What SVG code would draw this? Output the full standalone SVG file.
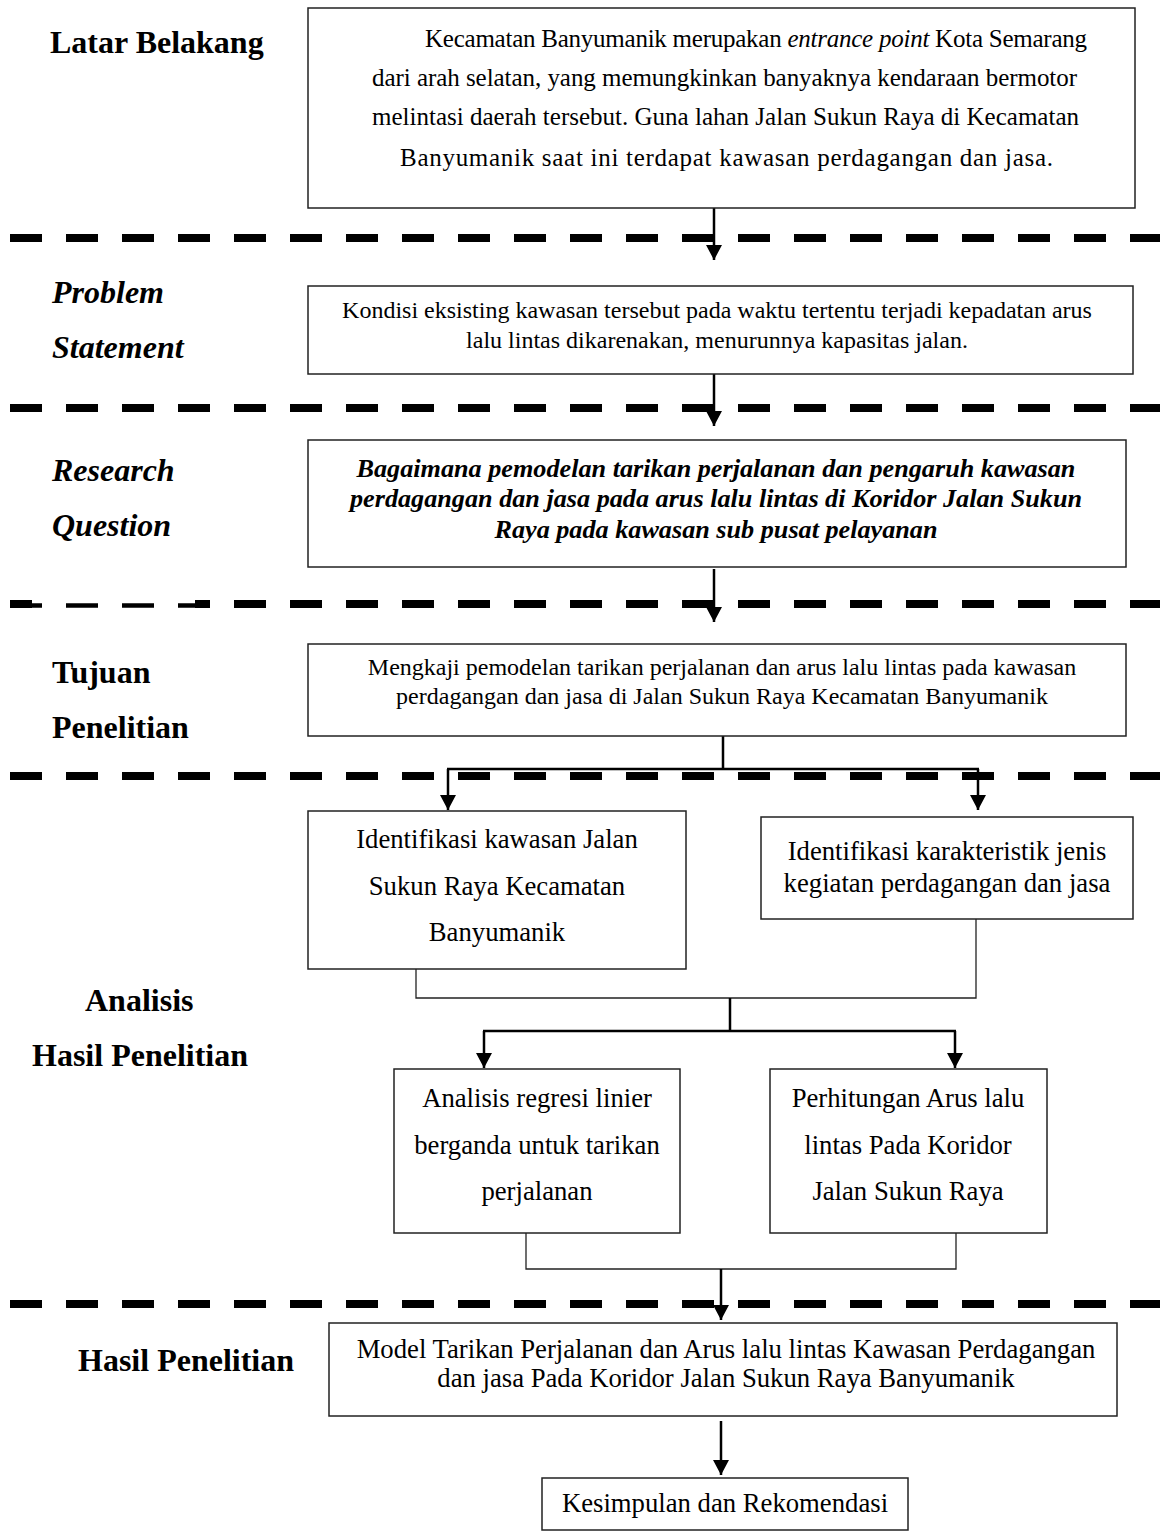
<svg xmlns="http://www.w3.org/2000/svg" width="1160" height="1533" viewBox="0 0 1160 1533">
<style>
text{font-family:"Liberation Serif","Times New Roman",serif;fill:#000}
.lbl{font-size:32px;font-weight:bold}
.lbi{font-size:32px;font-weight:bold;font-style:italic}
.t25{font-size:25px}
.t24{font-size:24px}
.t27{font-size:26.7px}
.bi{font-size:26.2px;font-weight:bold;font-style:italic}
.mid{text-anchor:middle}
.box{fill:#fff;stroke:#222;stroke-width:1.5}
.dash{stroke:#000;stroke-width:8;stroke-dasharray:32 24;fill:none}
.thin{stroke:#000;stroke-width:4.5;stroke-dasharray:32 24;fill:none}
.arr{stroke:#000;stroke-width:2.5;fill:none}
.brk{stroke:#222;stroke-width:1.3;fill:none}
</style>
<defs>
<marker id="ah" markerWidth="15" markerHeight="16" refX="15" refY="8" orient="auto" markerUnits="userSpaceOnUse" viewBox="0 0 15 16">
<path d="M0,0 L15,8 L0,16 Z" fill="#000"/>
</marker>
</defs>
<rect width="1160" height="1533" fill="#fff"/>

<g id="separators">
<line class="dash" x1="10" y1="238" x2="1160" y2="238"/>
<line class="dash" x1="10" y1="408" x2="1160" y2="408"/>
<line class="dash" x1="10" y1="604" x2="32" y2="604" style="stroke-dasharray:none"/>
<line class="thin" x1="32" y1="605.5" x2="195" y2="605.5" style="stroke-dashoffset:22"/>
<line class="dash" x1="195" y1="604" x2="1160" y2="604" style="stroke-dashoffset:185"/>
<line class="dash" x1="10" y1="776" x2="1160" y2="776"/>
<line class="dash" x1="10" y1="1304" x2="1160" y2="1304"/>
</g>

<g id="labels">
<text class="lbl" x="50" y="53">Latar Belakang</text>
<text class="lbi" x="52" y="303">Problem</text>
<text class="lbi" x="52" y="358">Statement</text>
<text class="lbi" x="52" y="481">Research</text>
<text class="lbi" x="52" y="536">Question</text>
<text class="lbl" x="52" y="683">Tujuan</text>
<text class="lbl" x="52" y="738">Penelitian</text>
<text class="lbl" x="85" y="1011">Analisis</text>
<text class="lbl" x="32" y="1066">Hasil Penelitian</text>
<text class="lbl" x="78" y="1371">Hasil Penelitian</text>
</g>

<g id="connectors">
<line class="arr" x1="714" y1="208" x2="714" y2="260" marker-end="url(#ah)"/>
<line class="arr" x1="714" y1="374" x2="714" y2="426" marker-end="url(#ah)"/>
<line class="arr" x1="714" y1="569" x2="714" y2="622" marker-end="url(#ah)"/>
<path class="arr" d="M723,736 V769 M447,769 H979" />
<line class="arr" x1="448" y1="769" x2="448" y2="810" marker-end="url(#ah)"/>
<line class="arr" x1="978" y1="769" x2="978" y2="810" marker-end="url(#ah)"/>
<path class="brk" d="M416,966 V998 H976 V919"/>
<line class="arr" x1="730" y1="998" x2="730" y2="1031"/>
<line class="arr" x1="483" y1="1031" x2="956" y2="1031"/>
<line class="arr" x1="484" y1="1031" x2="484" y2="1068" marker-end="url(#ah)"/>
<line class="arr" x1="955" y1="1031" x2="955" y2="1068" marker-end="url(#ah)"/>
<path class="brk" d="M526,1233 V1269 H956 V1233"/>
<line class="arr" x1="721" y1="1269" x2="721" y2="1320" marker-end="url(#ah)"/>
<line class="arr" x1="721" y1="1421" x2="721" y2="1475" marker-end="url(#ah)"/>
</g>

<g id="n1">
<rect class="box" x="308" y="8" width="827" height="200"/>
<text class="t25" x="425" y="47" textLength="662" lengthAdjust="spacing">Kecamatan Banyumanik merupakan <tspan font-style="italic">entrance point</tspan> Kota Semarang</text>
<text class="t25" x="372" y="86" textLength="705" lengthAdjust="spacing">dari arah selatan, yang memungkinkan banyaknya kendaraan bermotor</text>
<text class="t25" x="372" y="125" textLength="707" lengthAdjust="spacing">melintasi daerah tersebut. Guna lahan Jalan Sukun Raya di Kecamatan</text>
<text class="t25" x="400" y="166" textLength="653" lengthAdjust="spacing">Banyumanik saat ini terdapat kawasan perdagangan dan jasa.</text>
</g>

<g id="n2">
<rect class="box" x="308" y="286" width="825" height="88"/>
<text class="t24 mid" x="717" y="318">Kondisi eksisting kawasan tersebut pada waktu tertentu terjadi kepadatan arus</text>
<text class="t24 mid" x="717" y="348">lalu lintas dikarenakan, menurunnya kapasitas jalan.</text>
</g>

<g id="n3">
<rect class="box" x="308" y="440" width="818" height="127"/>
<text class="bi mid" x="716" y="477">Bagaimana pemodelan tarikan perjalanan dan pengaruh kawasan</text>
<text class="bi mid" x="716" y="507">perdagangan dan jasa pada arus lalu lintas di Koridor Jalan Sukun</text>
<text class="bi mid" x="716" y="538">Raya pada kawasan sub pusat pelayanan</text>
</g>

<g id="n4">
<rect class="box" x="308" y="644" width="818" height="92"/>
<text class="t24 mid" x="722" y="675">Mengkaji pemodelan tarikan perjalanan dan arus lalu lintas pada kawasan</text>
<text class="t24 mid" x="722" y="704">perdagangan dan jasa di Jalan Sukun Raya Kecamatan Banyumanik</text>
</g>

<g id="n5a">
<rect class="box" x="308" y="811" width="378" height="158"/>
<text class="t27 mid" x="497" y="848">Identifikasi kawasan Jalan</text>
<text class="t27 mid" x="497" y="895">Sukun Raya Kecamatan</text>
<text class="t27 mid" x="497" y="941">Banyumanik</text>
</g>

<g id="n5b">
<rect class="box" x="761" y="817" width="372" height="102"/>
<text class="t27 mid" x="947" y="860">Identifikasi karakteristik jenis</text>
<text class="t27 mid" x="947" y="892">kegiatan perdagangan dan jasa</text>
</g>

<g id="n6a">
<rect class="box" x="394" y="1069" width="286" height="164"/>
<text class="t27 mid" x="537" y="1107">Analisis regresi linier</text>
<text class="t27 mid" x="537" y="1154">berganda untuk tarikan</text>
<text class="t27 mid" x="537" y="1200">perjalanan</text>
</g>

<g id="n6b">
<rect class="box" x="770" y="1069" width="277" height="164"/>
<text class="t27 mid" x="908" y="1107">Perhitungan Arus lalu</text>
<text class="t27 mid" x="908" y="1154">lintas Pada Koridor</text>
<text class="t27 mid" x="908" y="1200">Jalan Sukun Raya</text>
</g>

<g id="n7">
<rect class="box" x="329" y="1323" width="788" height="93"/>
<text class="t27 mid" x="726" y="1358">Model Tarikan Perjalanan dan Arus lalu lintas Kawasan Perdagangan</text>
<text class="t27 mid" x="726" y="1387">dan jasa Pada Koridor Jalan Sukun Raya Banyumanik</text>
</g>

<g id="n8">
<rect class="box" x="542" y="1478" width="366" height="52"/>
<text class="t27 mid" x="725" y="1512">Kesimpulan dan Rekomendasi</text>
</g>
</svg>
